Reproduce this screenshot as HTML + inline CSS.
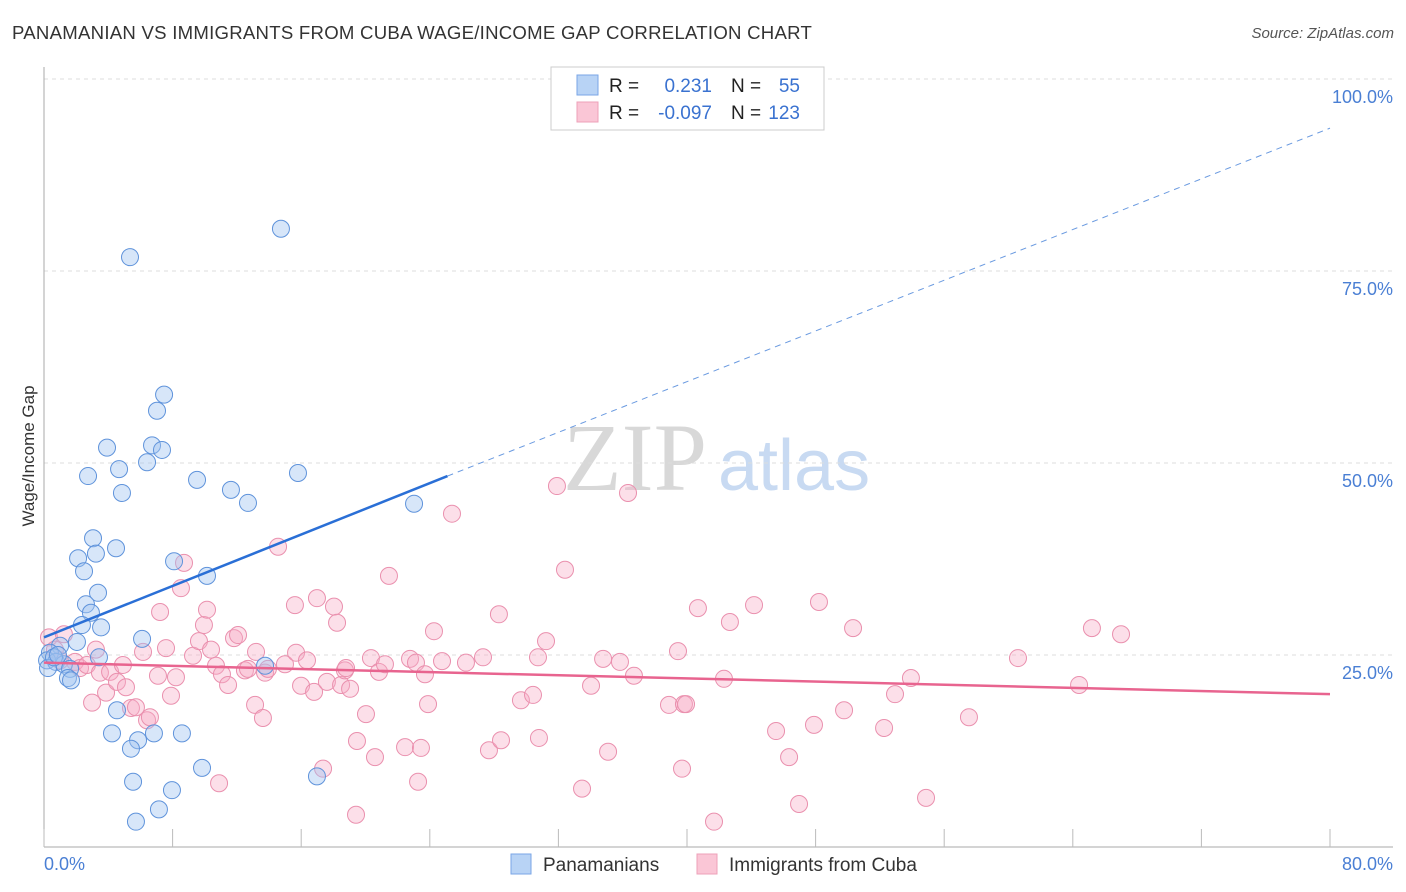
<!DOCTYPE html>
<html><head><meta charset="utf-8">
<style>
body{margin:0;background:#fff;font-family:"Liberation Sans",sans-serif;}
#wrap{position:relative;width:1406px;height:892px;overflow:hidden;}
.t{position:absolute;white-space:nowrap;}
</style></head>
<body>
<div id="wrap">
<div class="t" style="left:12px;top:22px;font-size:18.6px;letter-spacing:0.25px;color:#333;">PANAMANIAN VS IMMIGRANTS FROM CUBA WAGE/INCOME GAP CORRELATION CHART</div>
<div class="t" style="right:12px;top:25px;font-size:15px;color:#555;font-style:italic;">Source: ZipAtlas.com</div>
<svg id="chart" width="1406" height="892" style="position:absolute;left:0;top:0;"></svg>
</div>
<script>
const blueX=[14.74,5.35,7.47,7.03,3.92,6.72,7.34,4.67,6.41,2.74,9.52,11.63,15.80,4.85,12.69,23.02,3.05,4.48,2.12,3.23,2.49,10.14,8.09,3.36,2.61,2.92,2.36,3.55,6.10,2.05,1.00,0.37,0.19,0.75,1.24,0.25,1.62,1.49,1.68,3.42,13.75,4.54,4.23,6.84,5.85,8.58,5.41,9.83,5.54,7.96,16.98,7.15,5.72,0.62,0.87];
const blueY=[80.5,76.8,58.9,56.8,52.0,52.3,51.7,49.2,50.1,48.3,47.8,46.5,48.7,46.1,44.8,44.7,40.2,38.9,37.6,38.2,35.9,35.3,37.2,33.1,31.6,30.5,28.9,28.6,27.1,26.7,26.2,25.3,24.3,24.1,23.8,23.3,23.2,22.0,21.7,24.7,23.6,17.8,14.8,14.8,13.9,14.8,12.8,10.3,8.5,7.4,9.2,4.9,3.3,24.7,25.0];
const pinkX=[0.31,1.24,0.68,1.00,1.93,2.24,2.67,3.23,2.99,3.48,3.86,4.11,4.54,4.91,5.10,5.41,5.72,6.16,6.41,6.59,7.09,7.22,7.59,7.90,8.21,8.52,8.71,9.27,9.64,9.95,10.14,10.39,10.70,10.89,11.07,11.45,11.82,12.07,12.50,12.69,13.13,13.19,13.62,13.75,13.93,14.56,14.99,15.61,15.68,15.99,16.36,16.80,16.98,17.36,17.60,18.04,18.23,18.48,18.72,18.79,19.04,19.41,19.47,20.03,20.34,20.59,20.84,21.21,21.46,22.46,22.77,23.14,23.27,23.45,23.70,23.89,24.26,24.76,25.38,26.25,27.31,27.68,28.30,28.43,29.67,30.42,30.73,30.79,31.23,31.91,32.41,33.47,34.03,34.78,35.09,35.83,36.33,36.70,38.88,39.44,39.69,39.81,39.94,40.68,41.68,42.30,42.67,44.17,45.54,46.35,46.97,47.90,48.21,49.77,50.33,52.26,52.94,53.93,54.87,57.54,60.59,64.39,65.19,67.00];
const pinkY=[27.3,27.7,25.7,24.3,24.1,23.3,23.7,25.7,18.8,22.7,20.1,22.8,21.5,23.7,20.8,18.1,18.2,25.4,16.5,16.9,22.3,30.6,25.9,19.7,22.1,33.7,37.0,24.9,26.8,28.9,30.9,25.7,23.6,8.3,22.5,21.1,27.2,27.6,23.0,23.2,18.5,25.4,16.8,22.7,23.2,39.1,23.8,31.5,25.3,21.0,24.3,20.2,32.4,10.2,21.5,31.3,29.2,21.1,23.0,23.3,20.6,4.2,13.8,17.3,24.6,11.7,22.8,23.8,35.3,13.0,24.5,24.0,8.5,12.9,22.5,18.6,28.1,24.2,43.4,24.0,24.7,12.6,30.3,13.9,19.1,19.8,24.7,14.2,26.8,47.0,36.1,7.6,21.0,24.5,12.4,24.1,46.1,22.3,18.5,25.5,10.2,18.6,18.6,31.1,3.3,21.9,29.3,31.5,15.1,11.7,5.6,15.9,31.9,17.8,28.5,15.5,19.9,22.0,6.4,16.9,24.6,21.1,28.5,27.7];
const blueTrendX=[0,25.1,80];
const blueTrendY=[27.3,48.3,93.6];
const pinkTrendX=[0,80];
const pinkTrendY=[24.0,19.9];
const yTicks=[25,50,75,100];
const yTickLabels=["25.0%","50.0%","75.0%","100.0%"];
const xTicks=[0,8,16,24,32,40,48,56,64,72,80];

const NS="http://www.w3.org/2000/svg";
const svg=document.getElementById('chart');
const X0=44,X1=1330,Y0=847,Y100=79;
const sx=v=>X0+(v/80)*(X1-X0);
const sy=v=>Y0-(v/100)*(Y0-Y100);
function mk(tag,attrs,parent){const e=document.createElementNS(NS,tag);for(const k in attrs)e.setAttribute(k,attrs[k]);(parent||svg).appendChild(e);return e;}

let wm=mk('text',{x:635,y:490,'font-size':96,'font-family':'Liberation Serif,serif',fill:'#d8d8d8','text-anchor':'middle'});


wm.textContent='ZIP';
let wm2=mk('text',{x:718,y:490,'font-size':72,'font-family':'Liberation Sans,sans-serif',fill:'#c8daf2'});


wm2.textContent='atlas';

yTicks.forEach((v,i)=>{
  let g=mk('line',{x1:X0,x2:1393,y1:sy(v),y2:sy(v),stroke:'#ddd','stroke-dasharray':'4,4'});
  
  
  let t=mk('text',{x:1393,y:sy(v)+24,'font-size':18,fill:'#4a7fd4','text-anchor':'end'});
  
  
  t.textContent=yTickLabels[i];
});
let ya=mk('line',{x1:X0,x2:X0,y1:67,y2:Y0,stroke:'#aaa'});


let xa=mk('line',{x1:X0,x2:1393,y1:Y0,y2:Y0,stroke:'#aaa'});


xTicks.forEach(v=>{
  let t=mk('line',{x1:sx(v),x2:sx(v),y1:Y0,y2:Y0-18,stroke:'#bbb'});
  
  
});
let xl0=mk('text',{x:44,y:870,'font-size':18,fill:'#4a7fd4'});


xl0.textContent='0.0%';
let xl1=mk('text',{x:1393,y:870,'font-size':18,fill:'#4a7fd4','text-anchor':'end'});


xl1.textContent='80.0%';
let yt=mk('text',{x:0,y:0,'font-size':17,fill:'#333','text-anchor':'middle',transform:'translate(34,456) rotate(-90)'});


yt.textContent='Wage/Income Gap';

pinkX.forEach((x,i)=>{
  let c=mk('circle',{cx:sx(x),cy:sy(pinkY[i]),r:8.5,fill:'rgba(246,172,198,0.38)',stroke:'#ea90ae','stroke-width':1});
  
  
});
blueX.forEach((x,i)=>{
  let c=mk('circle',{cx:sx(x),cy:sy(blueY[i]),r:8.5,fill:'rgba(160,196,240,0.42)',stroke:'#5f93db','stroke-width':1});
  
  
});
let bt=mk('line',{x1:sx(blueTrendX[0]),y1:sy(blueTrendY[0]),x2:sx(blueTrendX[1]),y2:sy(blueTrendY[1]),stroke:'#2a6fd6','stroke-width':2.5});


let bd=mk('line',{x1:sx(blueTrendX[1]),y1:sy(blueTrendY[1]),x2:sx(blueTrendX[2]),y2:sy(blueTrendY[2]),stroke:'#6a9ae0','stroke-width':1,'stroke-dasharray':'6,5'});


let pt=mk('line',{x1:sx(pinkTrendX[0]),y1:sy(pinkTrendY[0]),x2:sx(pinkTrendX[1]),y2:sy(pinkTrendY[1]),stroke:'#e8648f','stroke-width':2.5});



let lb=mk('rect',{x:551,y:67,width:273,height:63,fill:'#fff',stroke:'#ccc'});


function stat(y,fill,stroke,r,n,nm){
  let s=mk('rect',{x:577,y:y-11,width:21,height:20,fill:fill,stroke:stroke});
  
  
  let t=mk('text',{x:609,y:y+6,'font-size':19,fill:'#222'});
  
  
  t.innerHTML='R = <tspan fill="#3a72d0" x="712" text-anchor="end">'+r+'</tspan><tspan x="731">N = </tspan><tspan fill="#3a72d0" x="800" text-anchor="end">'+n+'</tspan>';
}
stat(86,'#b8d3f5','#7aa6e6','0.231','55','panamanians');
stat(113,'#fac6d6','#eea0b8','-0.097','123','cuba');

function leg(x,fill,stroke,label,nm){
  let s=mk('rect',{x:x,y:854,width:20,height:20,fill:fill,stroke:stroke});
  
  
  let t=mk('text',{x:x+32,y:871,'font-size':19,fill:'#333'});
  
  
  t.textContent=label;
}
leg(511,'#b8d3f5','#7aa6e6','Panamanians','panamanians');
leg(697,'#fac6d6','#eea0b8','Immigrants from Cuba','cuba');
</script>
</body></html>
